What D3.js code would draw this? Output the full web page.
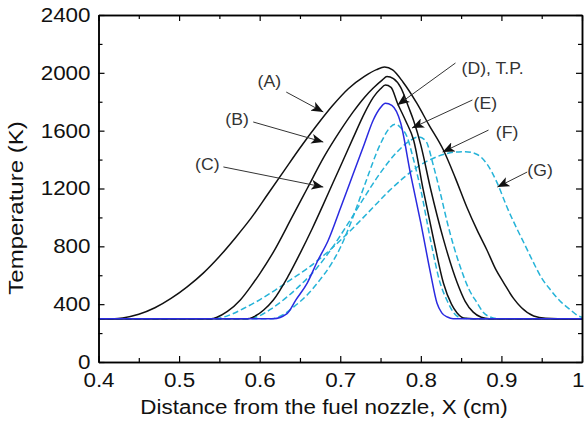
<!DOCTYPE html>
<html>
<head>
<meta charset="utf-8">
<script src="https://cdn.jsdelivr.net/npm/d3@7"></script>
<style>
  body { margin: 0; background: #fff; }
  svg text { font-family: "Liberation Sans", Arial, sans-serif; }
</style>
</head>
<body>
<div class="chart"></div>
<script>
// data: x in cm, temperature in K
var xA = [0.40, 0.42, 0.43, 0.45, 0.47, 0.49, 0.51, 0.53, 0.55, 0.57, 0.59, 0.61, 0.63, 0.65, 0.67, 0.69, 0.71, 0.73, 0.745, 0.755, 0.765, 0.778, 0.795, 0.81, 0.828, 0.843, 0.857, 0.87, 0.882, 0.893, 0.903, 0.915, 0.925, 0.94, 0.955, 0.97, 1.0];
var tA = [300, 300, 305, 330, 375, 440, 520, 615, 730, 860, 1000, 1160, 1320, 1480, 1630, 1770, 1890, 1975, 2022, 2040, 2020, 1935, 1790, 1640, 1466, 1270, 1072, 910, 775, 640, 546, 440, 375, 318, 302, 300, 300];

var xB = [0.40, 0.54, 0.547, 0.56, 0.576, 0.59, 0.60, 0.617, 0.64, 0.659, 0.68, 0.70, 0.716, 0.73, 0.741, 0.752, 0.758, 0.766, 0.775, 0.785, 0.791, 0.80, 0.812, 0.828, 0.845, 0.855, 0.865, 0.875, 0.885, 1.0];
var tB = [300, 300, 310, 350, 429, 530, 610, 760, 1000, 1200, 1420, 1600, 1730, 1830, 1895, 1950, 1975, 1960, 1900, 1760, 1670, 1500, 1200, 850, 550, 420, 345, 310, 300, 300];

var xC = [0.40, 0.585, 0.592, 0.605, 0.617, 0.635, 0.65, 0.665, 0.679, 0.691, 0.70, 0.716, 0.73, 0.741, 0.75, 0.756, 0.763, 0.771, 0.781, 0.791, 0.803, 0.816, 0.828, 0.838, 0.845, 0.855, 0.865, 1.0];
var tC = [300, 300, 311, 360, 429, 590, 750, 920, 1090, 1240, 1350, 1550, 1720, 1830, 1890, 1915, 1900, 1790, 1670, 1535, 1190, 844, 546, 400, 339, 302, 300, 300];

var xTP = [0.40, 0.617, 0.634, 0.645, 0.659, 0.672, 0.685, 0.70, 0.716, 0.73, 0.741, 0.75, 0.756, 0.764, 0.775, 0.787, 0.80, 0.812, 0.82, 0.826, 0.833, 0.84, 1.0];
var tTP = [300, 300, 335, 430, 546, 700, 840, 1060, 1300, 1510, 1674, 1760, 1790, 1775, 1653, 1307, 961, 615, 408, 340, 311, 300, 300];

var xE = [0.40, 0.615, 0.63, 0.642, 0.66, 0.675, 0.688, 0.70, 0.715, 0.73, 0.75, 0.76, 0.768, 0.775, 0.783, 0.79, 0.80, 0.812, 0.824, 0.833, 0.841, 0.85, 0.86, 1.0];
var tE = [300, 300, 330, 380, 470, 570, 670, 790, 990, 1220, 1510, 1610, 1645, 1620, 1556, 1420, 1190, 844, 546, 420, 339, 305, 300, 300];

var xF = [0.40, 0.585, 0.60, 0.615, 0.634, 0.652, 0.671, 0.69, 0.71, 0.73, 0.75, 0.77, 0.785, 0.797, 0.806, 0.816, 0.825, 0.833, 0.849, 0.86, 0.87, 0.878, 0.886, 0.895, 1.0];
var tF = [300, 300, 320, 370, 450, 540, 650, 790, 960, 1140, 1310, 1450, 1525, 1556, 1530, 1349, 1150, 961, 657, 500, 408, 340, 311, 300, 300];

var xG = [0.40, 0.54, 0.551, 0.565, 0.58, 0.60, 0.62, 0.64, 0.66, 0.68, 0.70, 0.72, 0.74, 0.76, 0.78, 0.80, 0.82, 0.84, 0.855, 0.87, 0.882, 0.895, 0.907, 0.92, 0.93, 0.94, 0.95, 0.961, 0.973, 0.986, 0.995, 1.0];
var tG = [300, 300, 305, 330, 370, 430, 500, 575, 650, 740, 840, 950, 1065, 1180, 1280, 1365, 1420, 1450, 1455, 1435, 1370, 1235, 1070, 913, 800, 685, 580, 498, 420, 360, 320, 310];

// axis ticks
var xTicks = [0.4, 0.5, 0.6, 0.7, 0.8, 0.9, 1];
var xMinor = [0.45, 0.55, 0.65, 0.75, 0.85, 0.95];
var yTicks = [0, 400, 800, 1200, 1600, 2000, 2400];
var yMinor = [200, 600, 1000, 1400, 1800, 2200];

// labels and arrows, in data units: text point, arrow start, arrow tip
var noteText = ["(A)", "(B)", "(C)", "(D), T.P.", "(E)", "(F)", "(G)"];
var noteAt = [[0.612, 1943], [0.572, 1680], [0.535, 1369], [0.889, 2033], [0.880, 1791], [0.907, 1591], [0.948, 1328]];
var noteFrom = [[0.633, 1867], [0.592, 1660], [0.555, 1349], [0.843, 2068], [0.864, 1812], [0.884, 1604], [0.932, 1314]];
var noteTip = [[0.679, 1729], [0.679, 1521], [0.679, 1210], [0.771, 1777], [0.789, 1618], [0.827, 1452], [0.895, 1210]];

var series = [
  { x: xG, t: tG, color: "#25b3d8", dash: "6,3" },
  { x: xF, t: tF, color: "#25b3d8", dash: "6,3" },
  { x: xE, t: tE, color: "#25b3d8", dash: "6,3" },
  { x: xA, t: tA, color: "#111111", dash: null },
  { x: xB, t: tB, color: "#111111", dash: null },
  { x: xC, t: tC, color: "#111111", dash: null },
  { x: xTP, t: tTP, color: "#2a2ae0", dash: null }
];

// size
var W = 584, H = 421;
var margin = { left: 98.5, right: 2, top: 15, bottom: 59 },
    width = W - margin.left - margin.right,
    height = H - margin.top - margin.bottom;

var svg = d3.select(".chart")
  .append("svg")
    .attr("width", W)
    .attr("height", H);

var g = svg.append("g")
  .attr("transform", "translate(" + margin.left + "," + margin.top + ")");

var x = d3.scaleLinear().domain([0.4, 1]).range([0, width]);
var y = d3.scaleLinear().domain([0, 2400]).range([height, 0]);

// the original lettering is a little wider than the font
function stretch(sel, k) {
  sel.each(function() {
    var w = this.getComputedTextLength();
    d3.select(this)
      .attr("textLength", w * k)
      .attr("lengthAdjust", "spacingAndGlyphs");
  });
}

// arrow head
svg.append("defs").append("marker")
  .attr("id", "head")
  .attr("viewBox", "0 0 12 10")
  .attr("refX", 12)
  .attr("refY", 5)
  .attr("markerUnits", "userSpaceOnUse")
  .attr("markerWidth", 12)
  .attr("markerHeight", 10)
  .attr("orient", "auto")
  .append("path")
    .attr("d", "M0,0 L12,5 L0,10 L3,5 Z")
    .attr("fill", "#111");

// curves
var line = d3.line()
  .x(function(d) { return x(d[0]); })
  .y(function(d) { return y(d[1]); })
  .curve(d3.curveMonotoneX);

series.forEach(function(s) {
  var pts = s.x.map(function(v, i) { return [v, s.t[i]]; });
  g.append("path")
    .datum(pts)
    .attr("fill", "none")
    .attr("stroke", s.color)
    .attr("stroke-width", 1.5)
    .attr("stroke-dasharray", s.dash)
    .attr("d", line);
});

// frame and ticks
var axisStyle = function(sel) {
  sel.select(".domain").attr("stroke", "#000").attr("stroke-width", 1.5);
  sel.selectAll(".tick line").attr("stroke", "#000").attr("stroke-width", 1.2);
};

g.append("g")
  .attr("transform", "translate(0," + height + ")")
  .call(d3.axisBottom(x).tickValues(xTicks).tickSize(-6).tickSizeOuter(0)
    .tickFormat(function(d) { return d; }))
  .call(axisStyle)
  .call(function(sel) {
    sel.selectAll(".tick text")
      .attr("y", 11)
      .attr("font-size", "20px")
      .attr("fill", "#111")
      .call(stretch, 1.12);
    // last label sits on the right edge
    sel.selectAll(".tick text").filter(function(d) { return d === 1; })
      .attr("text-anchor", "end")
      .attr("x", 2);
  });
g.append("g")
  .attr("transform", "translate(0," + height + ")")
  .call(d3.axisBottom(x).tickValues(xMinor).tickSize(-4).tickSizeOuter(0).tickFormat(""))
  .call(axisStyle);

g.append("g")
  .call(d3.axisLeft(y).tickValues(yTicks).tickSize(-6).tickSizeOuter(0)
    .tickFormat(function(d) { return d; }))
  .call(axisStyle)
  .call(function(sel) {
    sel.selectAll(".tick text")
      .attr("x", -8)
      .attr("font-size", "20px")
      .attr("fill", "#111")
      .call(stretch, 1.12);
  });
g.append("g")
  .call(d3.axisLeft(y).tickValues(yMinor).tickSize(-4).tickSizeOuter(0).tickFormat(""))
  .call(axisStyle);

// top and right with inward ticks
g.append("g")
  .call(d3.axisTop(x).tickValues(xTicks).tickSize(-6).tickSizeOuter(0).tickFormat(""))
  .call(axisStyle);
g.append("g")
  .call(d3.axisTop(x).tickValues(xMinor).tickSize(-4).tickSizeOuter(0).tickFormat(""))
  .call(axisStyle);
g.append("g")
  .attr("transform", "translate(" + width + ",0)")
  .call(d3.axisRight(y).tickValues(yTicks).tickSize(-6).tickSizeOuter(0).tickFormat(""))
  .call(axisStyle);
g.append("g")
  .attr("transform", "translate(" + width + ",0)")
  .call(d3.axisRight(y).tickValues(yMinor).tickSize(-4).tickSizeOuter(0).tickFormat(""))
  .call(axisStyle);

// axis titles
g.append("text")
  .attr("x", 225.5)
  .attr("y", height + 52)
  .attr("text-anchor", "middle")
  .attr("font-size", "20px")
  .attr("fill", "#111")
  .text("Distance from the fuel nozzle, X (cm)")
  .call(stretch, 1.12);

g.append("text")
  .attr("transform", "rotate(-90)")
  .attr("x", -193)
  .attr("y", -76)
  .attr("text-anchor", "middle")
  .attr("font-size", "20px")
  .attr("fill", "#111")
  .text("Temperature (K)")
  .call(stretch, 1.2);

// annotations
noteText.forEach(function(t, i) {
  g.append("line")
    .attr("x1", x(noteFrom[i][0]))
    .attr("y1", y(noteFrom[i][1]))
    .attr("x2", x(noteTip[i][0]))
    .attr("y2", y(noteTip[i][1]))
    .attr("stroke", "#333")
    .attr("stroke-width", 1)
    .attr("marker-end", "url(#head)");
  g.append("text")
    .attr("x", x(noteAt[i][0]))
    .attr("y", y(noteAt[i][1]))
    .attr("dy", "0.35em")
    .attr("text-anchor", "middle")
    .attr("font-size", "16px")
    .attr("fill", "#333")
    .text(t)
    .call(stretch, 1.1);
});
</script>
</body>
</html>
